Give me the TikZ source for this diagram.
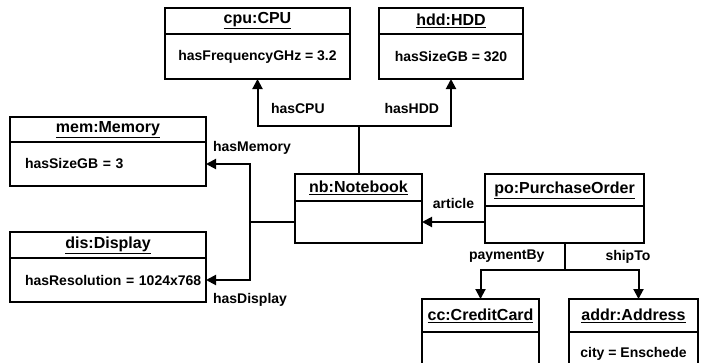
\documentclass[tikz,border=0pt]{standalone}
\usepackage{fontspec}
\setmainfont{Liberation Sans}
\usetikzlibrary{arrows.meta,positioning}

\begin{document}
\begin{tikzpicture}[
  x=1pt, y=-1pt,
  objname/.style={draw, line width=2pt, outer sep=0pt, inner sep=0pt,
                  minimum height=26pt, font=\fontsize{16}{18}\selectfont\bfseries},
  objattr/.style={draw, line width=2pt, outer sep=0pt, inner sep=0pt,
                  minimum height=44pt, font=\fontsize{14}{16}\selectfont\bfseries},
  leftattr/.style={objattr, text width=#1, align=left},
  rolelabel/.style={inner sep=0pt, font=\fontsize{14}{16}\selectfont\bfseries},
  link/.style={draw, line width=2pt},
  assoc/.style={link, -{Triangle[length=10pt, width=10pt]}},
]
  \useasboundingbox (0,0) rectangle (701,362);
  \clip (0,0) rectangle (701,362);

  % Parts of the notebook (top and left)
  \node[objname, minimum width=185pt, anchor=north west] (cpuh) at (165,8) {\underline{cpu:CPU}};
  \node[objattr, minimum width=185pt, minimum height=45pt, below=0pt of cpuh] (cpub) {hasFrequencyGHz = 3.2};
  \node[objname, minimum width=144pt, anchor=north west] (hddh) at (379,8) {\underline{hdd:HDD}};
  \node[objattr, minimum width=144pt, minimum height=45pt, below=0pt of hddh] (hddb) {hasSizeGB = 320};
  \node[objname, minimum width=196pt, minimum height=25pt, anchor=north west] (memh) at (10,117) {\underline{mem:Memory}};
  \node[leftattr=196pt, below=0pt of memh] (memb) {\hspace*{15pt}hasSizeGB = 3};
  \node[objname, minimum width=196pt, anchor=north west] (dish) at (10,232) {\underline{dis:Display}};
  \node[leftattr=196pt, below=0pt of dish] (disb) {\hspace*{15pt}hasResolution = 1024x768};

  % Notebook and order
  \node[objname, minimum width=127pt, minimum height=27pt, anchor=north west] (nbh) at (295,174) {\underline{nb:Notebook}};
  \node[objattr, minimum width=127pt, minimum height=42pt, below=0pt of nbh] (nbb) {};
  \node[objname, minimum width=159pt, minimum height=32pt, anchor=north west] (poh) at (485,174) {\underline{po:PurchaseOrder}};
  \node[objattr, minimum width=159pt, minimum height=37pt, below=0pt of poh] (pob) {};

  % Payment and shipping
  \node[objname, minimum width=117pt, minimum height=33pt, anchor=north west] (cch) at (422,299) {\underline{cc:CreditCard}};
  \node[objattr, minimum width=117pt, below=0pt of cch] (ccb) {};
  \node[objname, minimum width=129pt, minimum height=33pt, anchor=north west] (addrh) at (569,299) {\underline{addr:Address}};
  \node[objattr, minimum width=129pt, below=0pt of addrh] (addrb) {city = Enschede};

  % Junctions
  \path (nbh.north) ++(0,-48) coordinate (upJ);
  \path (nbb.west) ++(-45,0) coordinate (leftJ);
  \path (pob.south) ++(0,27) coordinate (downJ);

  % Edges: notebook parts
  \draw[link] (nbh.north) -- (upJ);
  \draw[assoc] (upJ) -| node[rolelabel, pos=0.69, right=12.5pt] {hasCPU} (cpub.south);
  \draw[assoc] (upJ) -| node[rolelabel, pos=0.69, left=11pt] {hasHDD} (hddb.south);
  \draw[link] (nbb.west) -- (leftJ);
  \draw[assoc] (leftJ) |- node[rolelabel, pos=0.5, above=9pt, xshift=2pt] {hasMemory} (memb.east);
  \draw[assoc] (leftJ) |- node[rolelabel, pos=0.5, below=12.4pt] {hasDisplay} (disb.east);

  % Edges: order
  \draw[assoc] (pob.west |- nbb.east) -- node[rolelabel, above=12.5pt] {article} (nbb.east);
  \draw[link] (pob.south) -- node[rolelabel, left=19pt] {paymentBy}
    node[rolelabel, right=40pt] {shipTo} (downJ);
  \draw[assoc] (downJ) -| (cch.north);
  \draw[assoc] (downJ) -| ([xshift=5pt]addrh.north);
\end{tikzpicture}
\end{document}
